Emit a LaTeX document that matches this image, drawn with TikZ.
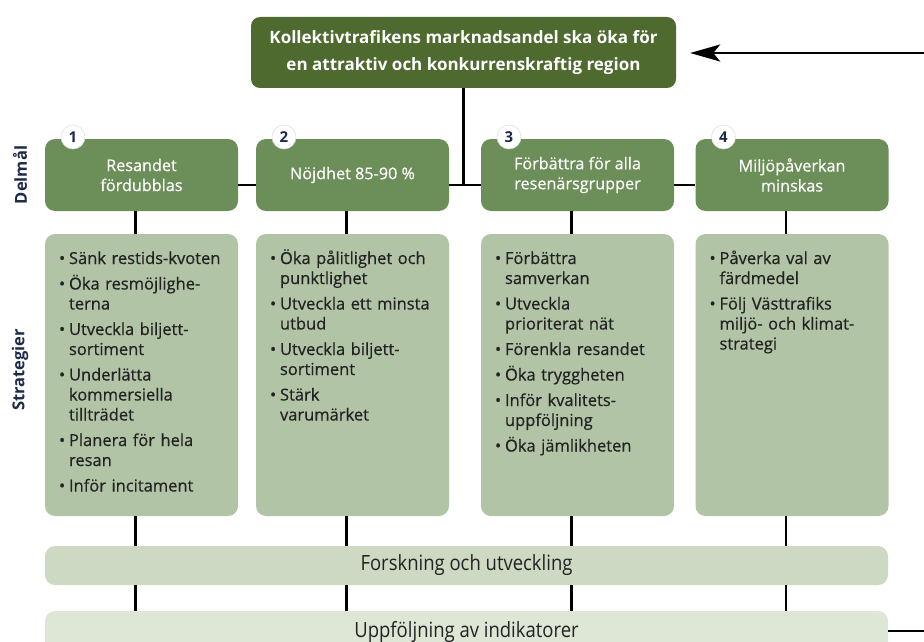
\documentclass[tikz,border=0pt]{standalone}
\usepackage{fontspec}
\setmainfont{Open Sans}
\newfontfamily\condfont[FakeStretch=0.88]{Open Sans}
\newfontfamily\medfont[FakeBold=0.5]{Open Sans}
\usetikzlibrary{arrows.meta,calc}
\definecolor{topgreen}{HTML}{4F6A2E}
\definecolor{midgreen}{HTML}{6C8E58}
\definecolor{sage}{HTML}{B2C4A6}
\definecolor{fougreen}{HTML}{CDD9C3}
\definecolor{uppgreen}{HTML}{DEE6D6}
\definecolor{navy}{HTML}{1E2A4A}
\definecolor{txt}{HTML}{222222}
\newcommand\bitem[1]{\par\hyphenpenalty=10000\relax\hangindent=10pt\relax\hangafter=1\relax\noindent\rule{0pt}{14pt}\makebox[10pt][l]{\textbullet}#1\par\vspace{5.5pt}}
\begin{document}
\begin{tikzpicture}[x=1pt,y=-1pt,
  conn/.style={line width=2.4pt,black},
  topbox/.style={fill=topgreen,rounded corners=9pt,text=white,font=\bfseries\fontsize{17}{27}\selectfont,align=center,inner sep=0pt,minimum width=425pt,minimum height=71pt},
  goalbox/.style={fill=midgreen,rounded corners=10pt,minimum width=193pt,minimum height=72pt,text=white,font=\medfont\fontsize{16.2}{20}\selectfont,align=center,inner sep=0pt},
  stratbox/.style={fill=sage,rounded corners=10pt,minimum width=193pt,minimum height=282pt,inner sep=0pt},
  strattext/.style={anchor=north west,text width=182pt,inner sep=0pt,text=txt,font=\medfont\fontsize{16.5}{20}\selectfont},
  numcirc/.style={circle,fill=white,draw=black!12,line width=0.6pt,minimum size=24pt,inner sep=0pt,text=navy,font=\bfseries\fontsize{15}{15}\selectfont},
  band/.style={rounded corners=10pt,minimum width=843pt,inner sep=0pt,text=txt,font=\condfont\fontsize{21}{24}\selectfont},
  sidelabel/.style={rotate=90,text=navy,font=\bfseries\fontsize{16.5}{18}\selectfont}
]
\useasboundingbox (0,0) rectangle (924,642);
\clip (0,0) rectangle (924,642);

% top goal
\node[topbox] (top) at (463.5,52.5) {Kollektivtrafikens marknadsandel ska öka för\\en attraktiv och konkurrenskraftig region};

% side labels
\node[sidelabel] (lbld) at (20,175) {Delmål};
\node[sidelabel] (lbls) at (20,370) {Strategier};

% Delmål boxes
\node[goalbox] (d1) at (141.5,175) {Resandet\\fördubblas};
\node[goalbox] (d2) at (352.5,175) {Nöjdhet 85-90 \%};
\node[goalbox] (d3) at (577.5,175) {Förbättra för alla\\resenärsgrupper};
\node[goalbox] (d4) at (792,175) {Miljöpåverkan\\minskas};

\node[numcirc] (n1) at (73,137) {1};
\node[numcirc] (n2) at (284,137) {2};
\node[numcirc] (n3) at (509,137) {3};
\node[numcirc] (n4) at (723.5,137) {4};

% Strategy boxes
\node[stratbox] (s1) at (141.5,375) {};
\node[stratbox] (s2) at (352.5,375) {};
\node[stratbox] (s3) at (577.5,375) {};
\node[stratbox] (s4) at (792,375) {};

\node[strattext] (t1) at ([xshift=14pt,yshift=-10pt]s1.north west) {\raggedright
\bitem{Sänk restids-kvoten}
\bitem{Öka resmöjlighe-\newline terna}
\bitem{Utveckla biljett-\newline sortiment}
\bitem{Underlätta\newline kommersiella\newline tillträdet}
\bitem{Planera för hela\newline resan}
\bitem{Inför incitament}};

\node[strattext] (t2) at ([xshift=14pt,yshift=-10pt]s2.north west) {\raggedright
\bitem{Öka pålitlighet och\newline punktlighet}
\bitem{Utveckla ett minsta\newline utbud}
\bitem{Utveckla biljett-\newline sortiment}
\bitem{Stärk\newline varumärket}};

\node[strattext] (t3) at ([xshift=14pt,yshift=-10pt]s3.north west) {\raggedright
\bitem{Förbättra\newline samverkan}
\bitem{Utveckla\newline prioriterat nät}
\bitem{Förenkla resandet}
\bitem{Öka tryggheten}
\bitem{Inför kvalitets-\newline uppföljning}
\bitem{Öka jämlikheten}};

\node[strattext] (t4) at ([xshift=14pt,yshift=-10pt]s4.north west) {\raggedright
\bitem{Påverka val av\newline färdmedel}
\bitem{Följ Västtrafiks\newline miljö- och klimat-\newline strategi}};

% bands
\node[band,fill=fougreen,minimum height=39pt] (fou) at (466.5,565.5) {Forskning och utveckling};
\node[band,fill=uppgreen,minimum height=42pt] (upp) at (466.5,632) {Uppföljning av indikatorer};

% connectors
\coordinate (hub) at (463.5,185);
\draw[conn] (top.south) -- (top.south |- hub);
\draw[conn] (d1.east |- hub) -- (d2.west |- hub);
\draw[conn] (d2.east |- hub) -- (d3.west |- hub);
\draw[conn] (d3.east |- hub) -- (d4.west |- hub);

\foreach \i in {1,2,3,4}{
  \coordinate (c\i) at ([xshift=-6pt]d\i.south);
  \draw[conn] (c\i) -- (c\i |- s\i.north);
  \draw[conn] (c\i |- s\i.south) -- (c\i |- fou.north);
  \draw[conn] (c\i |- fou.south) -- (c\i |- upp.north);
}

\coordinate (arrstart) at (924,53);
\draw[conn,-{Stealth[length=30pt,width=17pt,inset=7pt]}] (arrstart) -- ([xshift=14pt]arrstart -| top.east);

\coordinate (rend) at (924,631);
\draw[conn] (rend -| upp.east) -- (rend);
\end{tikzpicture}
\end{document}
